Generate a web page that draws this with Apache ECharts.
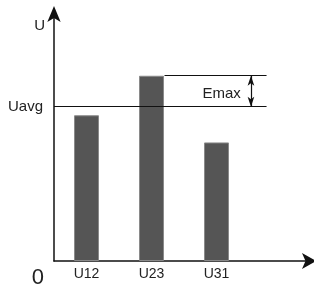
<!DOCTYPE html>
<html>
<head>
<meta charset="utf-8">
<script src="https://cdn.jsdelivr.net/npm/echarts@6/dist/echarts.min.js"></script>
<style>
  html, body { margin: 0; padding: 0; background: #fff; }
  #chart { width: 314px; height: 290px; }
</style>
</head>
<body>
<div id="chart"></div>
<script>
// data
const phases = ['U12', 'U23', 'U31']
const voltages = [59, 75, 48]
const uAvg = 62.5
const uMax = Math.max(...voltages)

const ink = '#111'
const font = 'Liberation Sans, Arial, sans-serif'

const chart = echarts.init(document.getElementById('chart'))
chart.setOption({
  animation: false,
  grid: { left: 54, right: 0, top: 14, bottom: 29 },
  xAxis: [{
    type: 'category',
    data: phases,
    max: 3, // one empty band so the axis runs on past U31
    axisLine: {
      lineStyle: { color: ink, width: 1.5 },
      symbol: ['none', 'arrow'],
      symbolSize: [12, 14],
      symbolOffset: [0, 2],
    },
    axisTick: { show: false },
    axisLabel: { color: '#222', fontSize: 14, fontFamily: font, margin: 6 },
  }, {
    // helper axis in band units, used for the reference lines
    type: 'value',
    min: 0,
    max: 4,
    show: false,
  }],
  yAxis: {
    type: 'value',
    min: 0,
    max: 100,
    interval: 100,
    name: 'U',
    nameLocation: 'end',
    nameGap: -12,
    nameTextStyle: { color: '#222', fontSize: 15, fontFamily: font, align: 'right', verticalAlign: 'middle', padding: [0, 9, 0, 0] },
    axisLine: {
      show: true,
      lineStyle: { color: ink, width: 1.5 },
      symbol: ['none', 'arrow'],
      symbolSize: [10, 16],
      symbolOffset: [0, 8],
    },
    axisTick: { show: false },
    splitLine: { show: false },
    axisLabel: {
      color: '#222',
      fontSize: 22,
      fontFamily: font,
      margin: 10,
      verticalAlign: 'top',
      padding: [6, 0, 0, 0],
      formatter: v => (v === 0 ? '0' : ''),
    },
  },
  series: [{
    type: 'bar',
    data: voltages,
    barWidth: 25,
    itemStyle: { color: '#555', borderColor: '#8a8a8a', borderWidth: 1 },
  }, {
    type: 'line',
    xAxisIndex: 1,
    data: [],
    silent: true,
    markLine: {
      silent: true,
      symbol: 'none',
      lineStyle: { color: ink, width: 1.2, type: 'solid' },
      label: { show: false },
      data: [
        [
          { coord: [0, uAvg], label: { show: true, position: 'start', formatter: 'Uavg', color: '#222', fontSize: 15, fontFamily: font, distance: 11 } },
          { coord: [3.27, uAvg] },
        ],
        [{ coord: [1.7, uMax] }, { coord: [3.27, uMax] }],
        [
          { coord: [3.03, uMax], symbol: 'arrow', symbolSize: [5, 10] },
          { coord: [3.03, uAvg], symbol: 'arrow', symbolSize: [5, 10] },
        ],
      ],
    },
    markPoint: {
      silent: true,
      symbolSize: 0,
      label: { show: true, position: 'inside', color: '#222', fontSize: 15, fontFamily: font },
      data: [{ coord: [2.58, (uMax + uAvg) / 2 - 1], value: 'Emax', label: { formatter: 'Emax' } }],
    },
  }],
})
</script>
</body>
</html>
